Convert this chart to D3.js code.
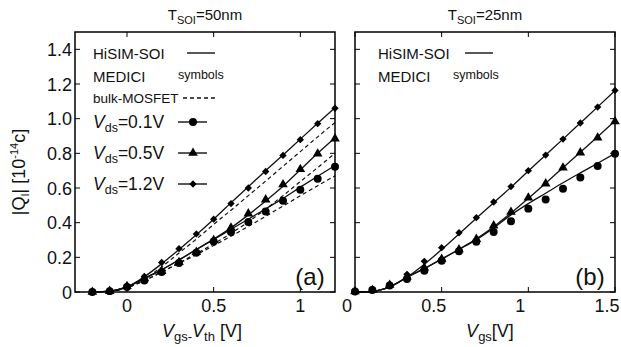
<!DOCTYPE html>
<html>
<head>
<meta charset="utf-8">
<script src="https://cdn.jsdelivr.net/npm/d3@7"></script>
<style>
  body { margin: 0; background: #fff; }
  svg { font-family: "Liberation Sans", Arial, sans-serif; }
</style>
</head>
<body>
<div id="chart"></div>
<script>
// panel (a): T_SOI = 50nm, x = Vgs - Vth
const xSymA = [-0.2, -0.1, 0, 0.1, 0.2, 0.3, 0.4, 0.5, 0.6, 0.7, 0.8, 0.9, 1.0, 1.1, 1.2];
const mediciA12 = [0, 0.005, 0.035, 0.09, 0.17, 0.25, 0.335, 0.42, 0.51, 0.60, 0.695, 0.788, 0.879, 0.971, 1.06];
const mediciA05 = [0, 0.005, 0.033, 0.078, 0.12, 0.172, 0.23, 0.298, 0.371, 0.452, 0.533, 0.62, 0.708, 0.798, 0.885];
const mediciA01 = [0, 0.005, 0.029, 0.067, 0.115, 0.167, 0.227, 0.292, 0.346, 0.404, 0.464, 0.527, 0.59, 0.654, 0.723];

const xLineA = [-0.2, -0.1, 0, 0.1, 0.2, 0.3, 0.4, 0.5, 0.6, 0.7, 0.8, 0.9, 1.0, 1.1, 1.2];
const hisimA12 = [0, 0.005, 0.03, 0.088, 0.163, 0.245, 0.33, 0.42, 0.515, 0.607, 0.70, 0.79, 0.882, 0.973, 1.063];
const hisimA05 = [0, 0.005, 0.03, 0.078, 0.128, 0.185, 0.245, 0.305, 0.37, 0.445, 0.525, 0.61, 0.705, 0.80, 0.89];
const hisimA01 = [0, 0.005, 0.03, 0.078, 0.128, 0.185, 0.245, 0.303, 0.362, 0.42, 0.48, 0.54, 0.605, 0.668, 0.73];

const xBulkA = [-0.1, 0, 0.1, 0.2, 0.3, 0.4, 0.5, 0.6, 0.7, 0.8, 0.9, 1.0, 1.1, 1.2];
const bulkA12 = [0.005, 0.025, 0.075, 0.145, 0.225, 0.305, 0.39, 0.472, 0.556, 0.64, 0.725, 0.81, 0.895, 0.978];
const bulkA05 = [0.005, 0.025, 0.066, 0.115, 0.168, 0.222, 0.278, 0.338, 0.405, 0.478, 0.556, 0.637, 0.718, 0.80];
const bulkA01 = [0.005, 0.025, 0.066, 0.115, 0.165, 0.215, 0.268, 0.322, 0.378, 0.437, 0.496, 0.555, 0.613, 0.67];

// panel (b): T_SOI = 25nm, x = Vgs
const xSymB = [0, 0.1, 0.2, 0.3, 0.4, 0.5, 0.6, 0.7, 0.8, 0.9, 1.0, 1.1, 1.2, 1.3, 1.4, 1.5];
const mediciB12 = [0.003, 0.01, 0.042, 0.102, 0.177, 0.256, 0.342, 0.429, 0.519, 0.608, 0.70, 0.79, 0.882, 0.975, 1.067, 1.163];
const mediciB05 = [0.003, 0.01, 0.04, 0.088, 0.14, 0.19, 0.245, 0.305, 0.383, 0.461, 0.544, 0.625, 0.717, 0.804, 0.89, 0.984];
const mediciB01 = [0.003, 0.012, 0.037, 0.075, 0.123, 0.18, 0.235, 0.29, 0.346, 0.408, 0.481, 0.533, 0.596, 0.66, 0.727, 0.798];

const xLineB = [0, 0.1, 0.2, 0.3, 0.4, 0.5, 0.6, 0.7, 0.8, 0.9, 1.0, 1.1, 1.2, 1.3, 1.4, 1.5];
const hisimB12 = [0, 0.004, 0.03, 0.085, 0.16, 0.245, 0.335, 0.425, 0.515, 0.605, 0.698, 0.79, 0.882, 0.975, 1.068, 1.162];
const hisimB05 = [0, 0.004, 0.03, 0.085, 0.135, 0.19, 0.247, 0.307, 0.377, 0.455, 0.54, 0.628, 0.717, 0.806, 0.896, 0.988];
const hisimB01 = [0, 0.004, 0.03, 0.085, 0.135, 0.19, 0.245, 0.302, 0.37, 0.445, 0.51, 0.57, 0.63, 0.687, 0.743, 0.80];

const yTicks = [0, 0.2, 0.4, 0.6, 0.8, 1.0, 1.2, 1.4];
const yTickLabels = ['0', '0.2', '0.4', '0.6', '0.8', '1.0', '1.2', '1.4'];
const xTicksA = [0, 0.5, 1];
const xTicksB = [0, 0.5, 1, 1.5];

const width = 621, height = 347;
const plotTop = 32, plotBottom = 292;

const svg = d3.select('#chart').append('svg')
  .attr('width', width)
  .attr('height', height);

const y = d3.scaleLinear().domain([0, 1.5]).range([plotBottom, plotTop]);

const symCircle = d3.symbol().type(d3.symbolCircle).size(50);
const symTri = d3.symbol().type(d3.symbolTriangle).size(40);
const symDia = d3.symbol().type(d3.symbolSquare).size(27);

function zip(xs, ys) { return xs.map((d, i) => [d, ys[i]]); }

function drawPanel(g, x, o) {
  const line = d3.line().x(d => x(d[0])).y(d => y(d[1])).curve(d3.curveMonotoneX);

  // ticks, inward on all sides
  const tl = 5;
  yTicks.forEach(t => {
    g.append('line').attr('x1', o.left).attr('x2', o.left + tl).attr('y1', y(t)).attr('y2', y(t)).attr('stroke', '#000');
    g.append('line').attr('x1', o.right).attr('x2', o.right - tl).attr('y1', y(t)).attr('y2', y(t)).attr('stroke', '#000');
  });
  o.xTicks.forEach(t => {
    g.append('line').attr('x1', x(t)).attr('x2', x(t)).attr('y1', plotBottom).attr('y2', plotBottom - tl).attr('stroke', '#000');
    g.append('line').attr('x1', x(t)).attr('x2', x(t)).attr('y1', plotTop).attr('y2', plotTop + tl).attr('stroke', '#000');
  });

  g.selectAll(null).data(o.xTicks).enter().append('text')
    .attr('x', d => x(d) + o.labelShift)
    .attr('y', plotBottom + 20)
    .attr('text-anchor', 'middle')
    .attr('font-size', 18)
    .attr('fill', '#111')
    .text(d => d === 0 ? '0' : d3.format('~g')(d));

  // curves
  o.hisim.forEach(s => {
    g.append('path').datum(zip(o.xLine, s)).attr('d', line)
      .attr('fill', 'none').attr('stroke', '#111').attr('stroke-width', 1.3);
  });
  (o.bulk || []).forEach(s => {
    g.append('path').datum(zip(o.xBulk, s)).attr('d', line)
      .attr('fill', 'none').attr('stroke', '#111').attr('stroke-width', 1.2)
      .attr('stroke-dasharray', '4,3');
  });

  // MEDICI symbols
  const marks = [[o.m01, symCircle, 0], [o.m05, symTri, 0], [o.m12, symDia, 45]];
  marks.forEach(([vals, sym, rot]) => {
    g.selectAll(null).data(zip(o.xSym, vals)).enter().append('path')
      .attr('d', sym())
      .attr('transform', d => `translate(${x(d[0])},${y(d[1])}) rotate(${rot})`)
      .attr('fill', '#000');
  });

  // frame
  g.append('rect').attr('x', o.left).attr('y', plotTop)
    .attr('width', o.right - o.left).attr('height', plotBottom - plotTop)
    .attr('fill', 'none').attr('stroke', '#000').attr('stroke-width', 1.5);

  // title
  const t = g.append('text').attr('x', (o.left + o.right) / 2).attr('y', 20)
    .attr('text-anchor', 'middle').attr('font-size', 15).attr('fill', '#111');
  t.append('tspan').text('T');
  t.append('tspan').attr('dy', 4).attr('font-size', 11).text('SOI');
  t.append('tspan').attr('dy', -4).text(o.title);

  // panel tag
  g.append('text').attr('x', o.right - 25).attr('y', 285)
    .attr('text-anchor', 'middle').attr('font-size', 24).attr('fill', '#111')
    .text(o.tag);

  // legend
  const lx = o.left + o.leg.dx;
  g.append('text').attr('x', lx).attr('y', 59).attr('font-size', 15).attr('fill', '#111').text('HiSIM-SOI');
  g.append('line').attr('x1', lx + o.leg.line0).attr('x2', lx + o.leg.line0 + 28).attr('y1', 53).attr('y2', 53)
    .attr('stroke', '#111').attr('stroke-width', 1.4);
  g.append('text').attr('x', lx).attr('y', 82).attr('font-size', 15).attr('fill', '#111').text('MEDICI');
  g.append('text').attr('x', lx + o.leg.sym).attr('y', 79).attr('font-size', 12.5).attr('fill', '#111').text('symbols');

  if (o.bulk) {
    g.append('text').attr('x', lx).attr('y', 103).attr('font-size', 13.5).attr('fill', '#111').text('bulk-MOSFET');
    g.append('line').attr('x1', lx + 90).attr('x2', lx + 124).attr('y1', 98).attr('y2', 98)
      .attr('stroke', '#111').attr('stroke-width', 1.3).attr('stroke-dasharray', '4,3');

    const rows = [['0.1', 122, symCircle, 0], ['0.5', 153, symTri, 0], ['1.2', 184, symDia, 45]];
    rows.forEach(([v, ry, sym, rot]) => {
      const tx = g.append('text').attr('x', lx).attr('y', ry + 6).attr('font-size', 17.5).attr('fill', '#111');
      tx.append('tspan').attr('font-style', 'italic').text('V');
      tx.append('tspan').attr('dy', 4).attr('font-size', 12.5).text('ds');
      tx.append('tspan').attr('dy', -4).text('=' + v + 'V');
      g.append('line').attr('x1', lx + 85).attr('x2', lx + 114).attr('y1', ry).attr('y2', ry)
        .attr('stroke', '#111').attr('stroke-width', 1.4);
      g.append('path').attr('d', sym()).attr('transform', `translate(${lx + 100},${ry}) rotate(${rot})`).attr('fill', '#000');
    });
  }
}

// panel (a)
const xA = d3.scaleLinear().domain([-0.3, 1.2]).range([75, 335]);
const gA = svg.append('g');
drawPanel(gA, xA, {
  left: 75, right: 335, xTicks: xTicksA, labelShift: 0,
  xSym: xSymA, m01: mediciA01, m05: mediciA05, m12: mediciA12,
  xLine: xLineA, hisim: [hisimA12, hisimA05, hisimA01],
  xBulk: xBulkA, bulk: [bulkA12, bulkA05, bulkA01],
  title: '=50nm', tag: '(a)',
  leg: { dx: 18, line0: 94, sym: 85 }
});

// y tick labels on panel (a)
svg.append('g').selectAll('text').data(yTicks).enter().append('text')
  .attr('x', 72).attr('y', d => y(d) + 6.5)
  .attr('text-anchor', 'end').attr('font-size', 18).attr('fill', '#111')
  .text((d, i) => yTickLabels[i]);

// panel (b)
const xB = d3.scaleLinear().domain([0, 1.5]).range([355, 615]);
const gB = svg.append('g');
drawPanel(gB, xB, {
  left: 355, right: 615, xTicks: xTicksB, labelShift: -8,
  xSym: xSymB, m01: mediciB01, m05: mediciB05, m12: mediciB12,
  xLine: xLineB, hisim: [hisimB12, hisimB05, hisimB01],
  title: '=25nm', tag: '(b)',
  leg: { dx: 23, line0: 87, sym: 75 }
});

// axis titles
const xtA = svg.append('text').attr('x', 202).attr('y', 337).attr('text-anchor', 'middle')
  .attr('font-size', 18).attr('fill', '#111');
xtA.append('tspan').attr('font-style', 'italic').text('V');
xtA.append('tspan').attr('dy', 4).attr('font-size', 13).text('gs-');
xtA.append('tspan').attr('dy', -4).attr('font-style', 'italic').text('V');
xtA.append('tspan').attr('dy', 4).attr('font-size', 13).text('th');
xtA.append('tspan').attr('dy', -4).text(' [V]');

const xtB = svg.append('text').attr('x', 490).attr('y', 337).attr('text-anchor', 'middle')
  .attr('font-size', 18).attr('fill', '#111');
xtB.append('tspan').attr('font-style', 'italic').text('V');
xtB.append('tspan').attr('dy', 4).attr('font-size', 13).text('gs');
xtB.append('tspan').attr('dy', -4).text('[V]');

const yt = svg.append('text').attr('transform', 'translate(25,172) rotate(-90)')
  .attr('text-anchor', 'middle').attr('font-size', 18).attr('fill', '#111');
yt.append('tspan').text('|Q');
yt.append('tspan').attr('dy', 4).attr('font-size', 11).text('I');
yt.append('tspan').attr('dy', -4).text('| [10');
yt.append('tspan').attr('dy', -7).attr('font-size', 11).text('-14');
yt.append('tspan').attr('dy', 7).text('c]');
</script>
</body>
</html>
